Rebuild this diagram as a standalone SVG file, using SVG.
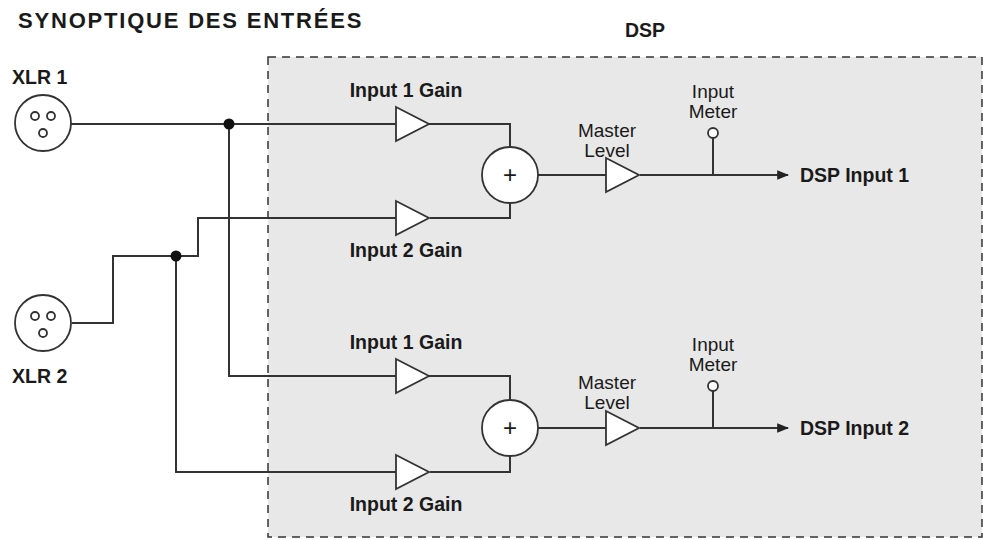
<svg xmlns="http://www.w3.org/2000/svg" width="987" height="540" viewBox="0 0 987 540">
<style>
text{font-family:"Liberation Sans",Arial,sans-serif;fill:#1a1a1a}
.b{font-weight:bold;font-size:19.5px}
.r{font-size:19px}
.w{fill:none;stroke:#333;stroke-width:2}
.s{fill:#fff;stroke:#333;stroke-width:1.8}
.d{fill:#111}
</style>
<defs>
<marker id="a" viewBox="0 0 10 10" refX="9" refY="5" markerWidth="6" markerHeight="6" orient="auto"><path d="M0,1L10,5L0,9z" fill="#222"/></marker>
<g id="amp"><path d="M0,-17L33,0L0,17z" class="s"/></g>
<g id="xlr"><circle r="28" class="s"/><circle cx="-8" cy="-7" r="4" class="s" stroke-width="1.4"/><circle cx="8" cy="-7" r="4" class="s" stroke-width="1.4"/><circle cx="0" cy="10" r="4" class="s" stroke-width="1.4"/></g>
</defs>
<rect width="987" height="540" fill="#fff"/>
<text x="18" y="28" font-weight="bold" font-size="22" letter-spacing="1.8">SYNOPTIQUE DES ENTRÉES</text>
<g id="dsp"><rect x="268" y="57" width="714" height="480" fill="#e8e8e8" stroke="#333" stroke-width="1.5" stroke-dasharray="8,6"/>
<text x="645" y="37" class="b" font-size="18" text-anchor="middle">DSP</text></g>
<g id="connectors">
<path class="w" d="M71,124H396M428,124H510V147"/>
<path class="w" d="M72,323H113V256H198V218H396M430,218H510V203"/>
<path class="w" d="M229,124V376H396M428,376H510V400"/>
<path class="w" d="M176,256V472H396M430,472H510V456"/>
<path class="w" d="M538,175H606M640,175H788" marker-end="url(#a)"/>
<path class="w" d="M538,428H606M640,428H788" marker-end="url(#a)"/>
<path class="w" d="M713,138V175M713,391V428"/>
<circle cx="229" cy="124" r="5.5" class="d"/>
<circle cx="176" cy="256" r="5.5" class="d"/>
</g>
<g id="xlr1"><use href="#xlr" x="43" y="123"/><text x="12" y="84" class="b">XLR 1</text></g>
<g id="xlr2"><use href="#xlr" x="43" y="323"/><text x="12" y="383" class="b">XLR 2</text></g>
<g id="gain1a"><use href="#amp" x="396" y="124"/><text x="406" y="97" class="b" text-anchor="middle">Input 1 Gain</text></g>
<g id="gain2a"><use href="#amp" x="396" y="218"/><text x="406" y="257" class="b" text-anchor="middle">Input 2 Gain</text></g>
<g id="sum1"><circle cx="510" cy="175" r="28" class="s"/><text x="510" y="183" font-size="24" text-anchor="middle">+</text></g>
<g id="master1"><use href="#amp" x="606" y="175"/><text x="607" y="137" class="r" text-anchor="middle">Master</text><text x="607" y="157" class="r" text-anchor="middle">Level</text></g>
<g id="meter1"><circle cx="713" cy="133" r="5" class="s"/><text x="713" y="98" class="r" text-anchor="middle">Input</text><text x="713" y="118" class="r" text-anchor="middle">Meter</text></g>
<g id="out1"><text x="800" y="182" class="b">DSP Input 1</text></g>
<g id="gain1b"><use href="#amp" x="396" y="376"/><text x="406" y="349" class="b" text-anchor="middle">Input 1 Gain</text></g>
<g id="gain2b"><use href="#amp" x="396" y="472"/><text x="406" y="511" class="b" text-anchor="middle">Input 2 Gain</text></g>
<g id="sum2"><circle cx="510" cy="428" r="28" class="s"/><text x="510" y="436" font-size="24" text-anchor="middle">+</text></g>
<g id="master2"><use href="#amp" x="606" y="428"/><text x="607" y="389" class="r" text-anchor="middle">Master</text><text x="607" y="409" class="r" text-anchor="middle">Level</text></g>
<g id="meter2"><circle cx="713" cy="386" r="5" class="s"/><text x="713" y="351" class="r" text-anchor="middle">Input</text><text x="713" y="371" class="r" text-anchor="middle">Meter</text></g>
<g id="out2"><text x="800" y="435" class="b">DSP Input 2</text></g>
</svg>
